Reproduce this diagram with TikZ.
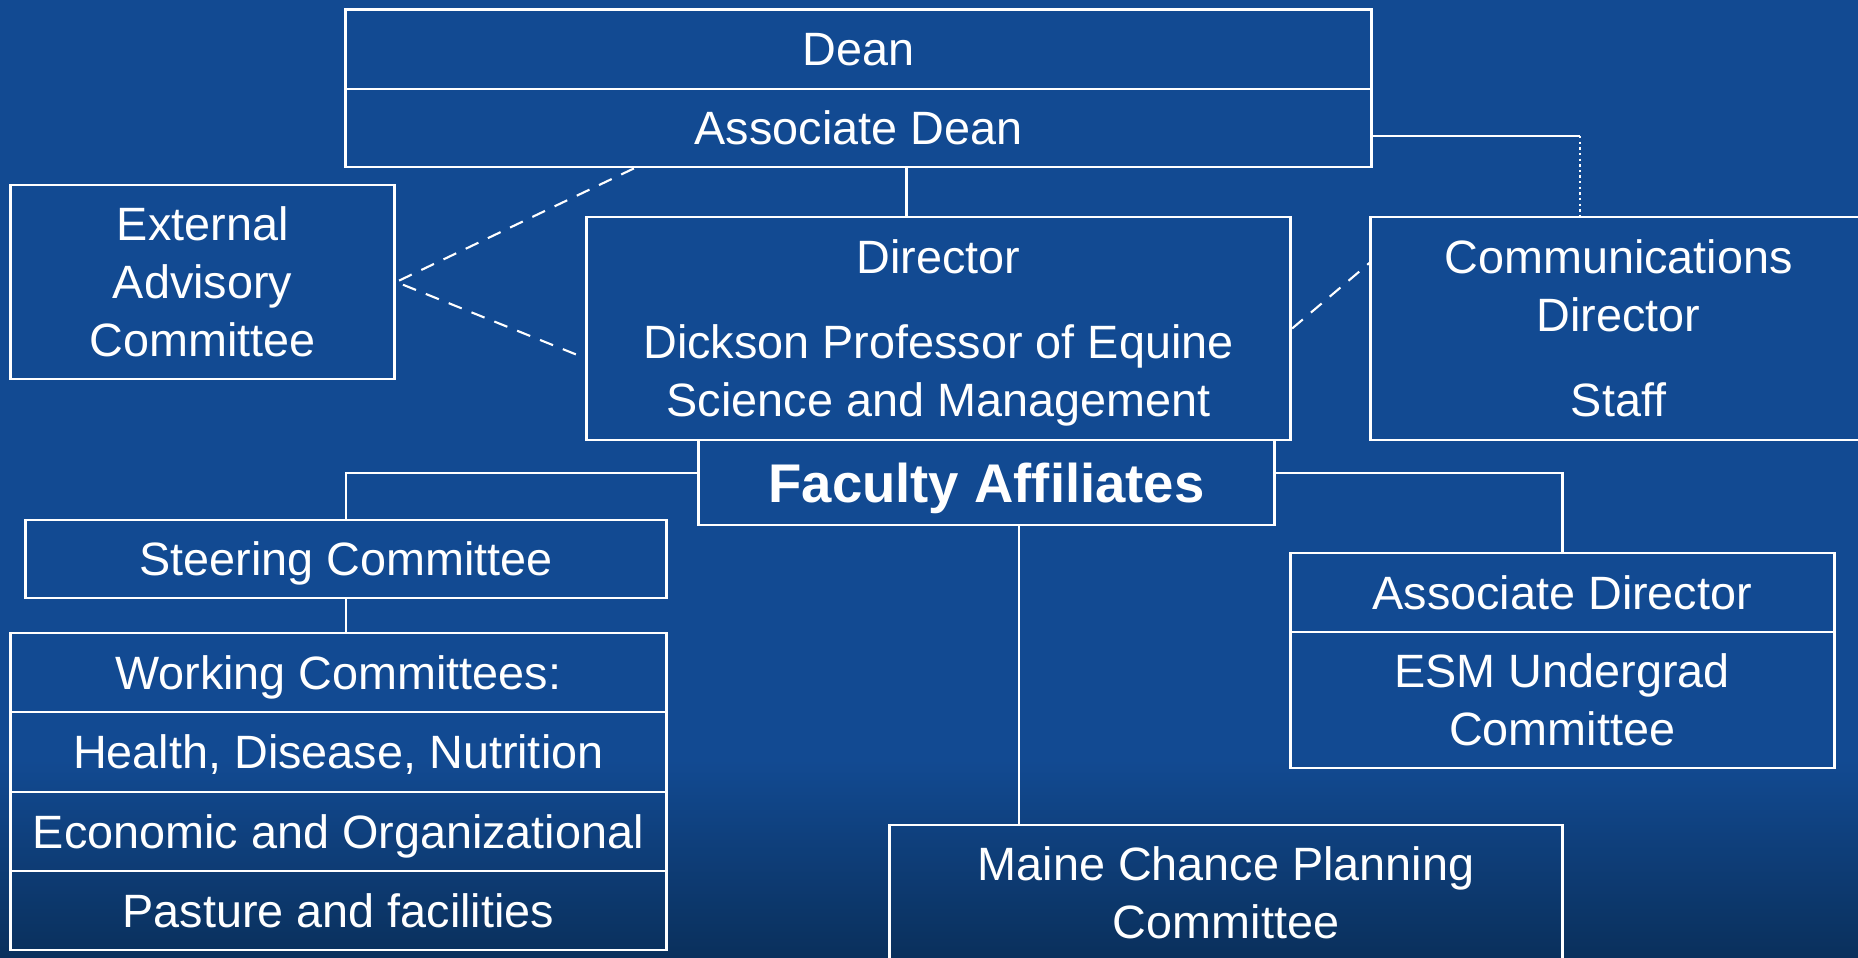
\documentclass[tikz,border=0pt]{standalone}
\usepackage{fontspec}
\setmainfont{Liberation Sans}
\usepackage{tikz}
\usetikzlibrary{calc}
\usetikzlibrary{positioning}
\definecolor{slateblue}{RGB}{18, 74, 146}
\definecolor{deepblue}{RGB}{10, 48, 92}
\newcommand{\orgfont}{\fontsize{13.3}{16.5}\selectfont}
\newcommand{\orgbold}{\fontsize{15.5}{18}\selectfont\bfseries}

\tikzset{
  orgbox/.style={draw=white, line width=0.8pt, text=white, align=center,
                 inner sep=0pt, text depth=0pt, font=\orgfont},
  link/.style={draw=white, line width=0.8pt},
  softlink/.style={draw=white, line width=0.6pt, dash pattern=on 4pt off 3pt},
  dotlink/.style={draw=white, line width=0.7pt, dash pattern=on 0.7pt off 0.9pt}
}

\begin{document}
\begin{tikzpicture}[x=0.01cm, y=-0.01cm]
  \useasboundingbox (0,0) rectangle (1858,958);
  \clip (0,0) rectangle (1858,958);
  \fill[slateblue] (0,0) rectangle (1858,958);
  \shade[top color=slateblue, bottom color=deepblue] (0,760) rectangle (1858,958);

  % top of the chart
  \node[orgbox, minimum width=10.25cm, minimum height=0.795cm] (dean)  at (858.5, 49.25) {Dean};
  \node[orgbox, minimum width=10.25cm, minimum height=0.78cm]  (adean) at (858.5,128.00) {Associate Dean};
  \node[orgbox, minimum width=3.84cm,  minimum height=1.94cm]  (eac)   at (202.65,282.0) {External\\Advisory\\Committee};
  \node[orgbox, minimum width=7.04cm,  minimum height=2.23cm]  (dir)   at (938.5,328.5)
       {Director\\[0.27cm]Dickson Professor of Equine\\Science and Management};
  \node[orgbox, minimum width=4.95cm,  minimum height=2.23cm]  (comm)  at (1618.5,328.5)
       {Communications\\Director\\[0.27cm]Staff};
  \node[orgbox, minimum width=5.75cm,  minimum height=0.85cm, font=\orgbold] (fac) at (986.5,482.5) {Faculty Affiliates};

  % left branch
  \node[orgbox, minimum width=6.40cm,  minimum height=0.78cm]  (steer) at (346.0,559.0) {Steering Committee};
  \node[orgbox, minimum width=6.553cm, minimum height=0.79cm]  (wc)    at (338.35,672.5) {Working Committees:};
  \node[orgbox, minimum width=6.553cm, minimum height=0.80cm]  (hdn)   at (338.35,752.0) {Health, Disease, Nutrition};
  \node[orgbox, minimum width=6.553cm, minimum height=0.79cm]  (eco)   at (338.35,831.5) {Economic and Organizational};
  \node[orgbox, minimum width=6.553cm, minimum height=0.79cm]  (past)  at (338.35,910.5) {Pasture and facilities};

  % right branch
  \node[orgbox, minimum width=5.435cm, minimum height=0.79cm]  (adir)  at (1562.25,592.5) {Associate Director};
  \node[orgbox, minimum width=5.435cm, minimum height=1.36cm]  (esm)   at (1562.25,700.0) {ESM Undergrad\\Committee};
  \node[orgbox, minimum width=6.72cm,  minimum height=1.36cm]  (maine) at (1226.0,893.0) {Maine Chance Planning\\Committee};

  % connectors
  \draw[link] ([xshift=0.48cm]adean.south) -- ([xshift=0.48cm]adean.south |- dir.north);
  \draw[softlink] ([xshift=-2.245cm]adean.south) -- (eac.east) -- ([yshift=-0.295cm]dir.west);
  \draw[softlink] (dir.east) -- ([yshift=0.655cm]comm.west);
  \coordinate (commtop) at ([xshift=-0.385cm]comm.north);
  \coordinate (commbend) at ([yshift=-0.08cm]adean.east -| commtop);
  \draw[link] ([yshift=-0.08cm]adean.east) -- (commbend);
  \draw[dotlink] (commbend) -- (commtop);
  \draw[link] ([yshift=0.095cm]fac.west) -| (steer.north);
  \draw[link] ([yshift=0.095cm]fac.east) -| (adir.north);
  \draw[link] ([xshift=0.325cm]fac.south) -- ([xshift=0.325cm]fac.south |- maine.north);
  \draw[link] (steer.south) -- (steer.south |- wc.north);
\end{tikzpicture}
\end{document}
